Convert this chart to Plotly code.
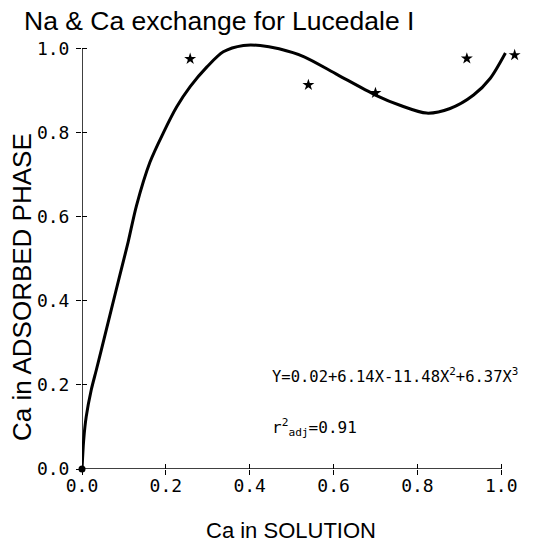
import plotly.graph_objects as go

# Fitted curve
curve_x = [0.0, 0.004, 0.01, 0.022, 0.034, 0.046, 0.07, 0.09, 0.11, 0.13, 0.162, 0.194, 0.226,
           0.258, 0.298, 0.337, 0.385, 0.425, 0.47, 0.53, 0.61, 0.70, 0.76, 0.822, 0.878, 0.934,
           0.974, 1.01]
curve_y = [0.0, 0.069, 0.124, 0.188, 0.235, 0.283, 0.38, 0.46, 0.54, 0.627, 0.73, 0.80, 0.862,
           0.91, 0.957, 0.993, 1.008, 1.008, 1.0, 0.981, 0.938, 0.89, 0.865, 0.847, 0.858, 0.89,
           0.93, 0.99]

# Observed points (stars)
obs_x = [0.258, 0.54, 0.70, 0.918, 1.032]
obs_y = [0.976, 0.914, 0.895, 0.977, 0.985]

origin_x = [0.0]
origin_y = [0.0]

tick_vals = [0.0, 0.2, 0.4, 0.6, 0.8, 1.0]
tick_text = ["0.0", "0.2", "0.4", "0.6", "0.8", "1.0"]
axis_range = [0.0, 1.04]

title_text = "Na & Ca exchange for Lucedale I"
x_title = "Ca in SOLUTION"
y_title = "Ca in ADSORBED PHASE"
eq_text = "Y=0.02+6.14X-11.48X<sup>2</sup>+6.37X<sup>3</sup>"
r2_text = "r<sup>2</sup><sub>adj</sub>=0.91"

tick_font = dict(family="DejaVu Sans Mono", size=18, color="black")

fig = go.Figure()
fig.add_trace(go.Scatter(x=curve_x, y=curve_y, mode="lines",
                         line=dict(shape="spline", smoothing=0.8, width=3, color="black"),
                         showlegend=False, hoverinfo="skip"))
fig.add_trace(go.Scatter(x=obs_x, y=obs_y, mode="markers",
                         marker=dict(symbol="star", size=9, color="black"),
                         cliponaxis=False, showlegend=False))
fig.add_trace(go.Scatter(x=origin_x, y=origin_y, mode="markers",
                         marker=dict(symbol="circle", size=7, color="black"),
                         cliponaxis=False, showlegend=False))
# invisible trace for the overlay axes that draw the inner half of the ticks
fig.add_trace(go.Scatter(x=origin_x, y=origin_y, xaxis="x2", yaxis="y2", mode="markers",
                         marker=dict(opacity=0), showlegend=False, hoverinfo="skip"))

axis_common = dict(range=axis_range, tickvals=tick_vals, showgrid=False, zeroline=False,
                   showline=False, tickwidth=1.2, tickcolor="black")

lo, hi = tick_vals[0], tick_vals[-1]
fig.update_layout(
    width=533, height=547,
    margin=dict(l=82, r=15, t=32, b=78),
    paper_bgcolor="white", plot_bgcolor="white",
    title=dict(text=title_text, font=dict(family="Liberation Sans", size=26.5, color="black"),
               xref="container", x=24 / 533, xanchor="left",
               yref="container", y=1 - 21 / 547, yanchor="middle", pad=dict(l=0, t=0, b=0, r=0)),
    xaxis=dict(**axis_common, ticktext=tick_text, ticks="outside", ticklen=5,
               tickfont=tick_font, ticklabelstandoff=-5),
    yaxis=dict(**axis_common, ticktext=tick_text, ticks="outside", ticklen=5,
               tickfont=tick_font, ticklabelstandoff=3),
    xaxis2=dict(**axis_common, overlaying="x", anchor="y", side="bottom",
                ticks="inside", ticklen=5, showticklabels=False),
    yaxis2=dict(**axis_common, overlaying="y", anchor="x", side="left",
                ticks="inside", ticklen=5, showticklabels=False),
    shapes=[
        dict(type="line", xref="x", yref="y", x0=lo, x1=hi, y0=lo, y1=lo,
             line=dict(color="black", width=1.5)),
        dict(type="line", xref="x", yref="y", x0=lo, x1=lo, y0=lo, y1=hi,
             line=dict(color="black", width=1.5)),
    ],
    annotations=[
        dict(text=x_title, xref="paper", yref="paper", x=0.479, y=-0.14,
             xanchor="center", yanchor="middle", showarrow=False,
             font=dict(family="Liberation Sans", size=22, color="black")),
        dict(text=y_title, xref="paper", yref="paper", x=-0.138, y=0.416, textangle=-90,
             xanchor="center", yanchor="middle", showarrow=False,
             font=dict(family="Liberation Sans", size=26, color="black")),
        dict(text=eq_text, xref="paper", yref="paper", x=0.432, y=0.215,
             xanchor="left", yanchor="middle", showarrow=False,
             font=dict(family="DejaVu Sans Mono", size=15.5, color="black")),
        dict(text=r2_text, xref="paper", yref="paper", x=0.432, y=0.094,
             xanchor="left", yanchor="middle", showarrow=False,
             font=dict(family="DejaVu Sans Mono", size=16, color="black")),
    ],
)

fig.write_html("out.html", config={"displayModeBar": False},
               post_script="document.body.style.margin='0px';")
